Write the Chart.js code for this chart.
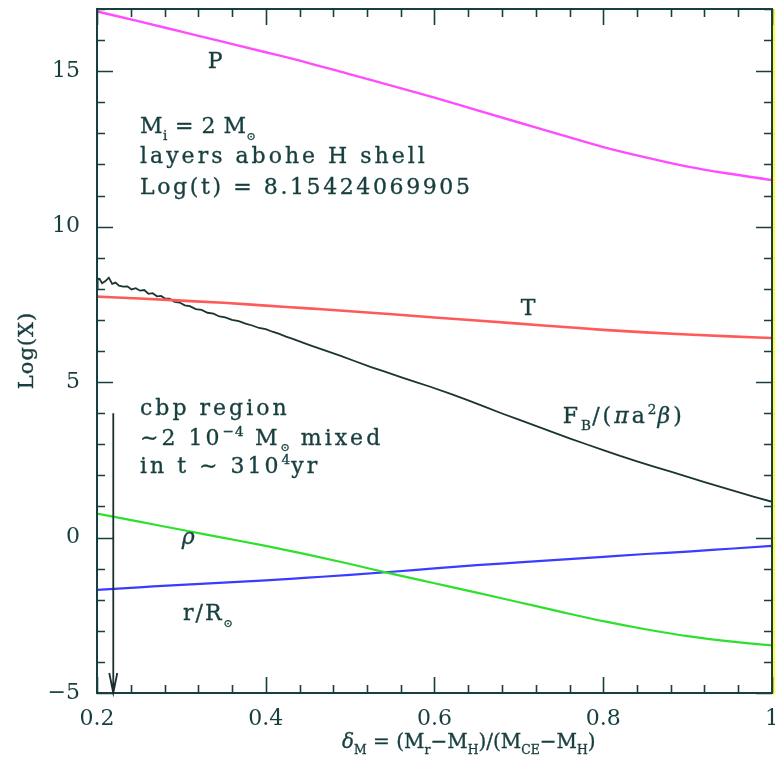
<!DOCTYPE html>
<html>
<head>
<meta charset="utf-8">
<script src="https://cdn.jsdelivr.net/npm/chart.js@4.4.1/dist/chart.umd.min.js"></script>
<style>
  html, body { margin: 0; padding: 0; background: #ffffff; }
  #wrap { width: 775px; height: 775px; }
</style>
</head>
<body>
<div id="wrap"><canvas id="c" width="775" height="775"></canvas></div>
<script>
// ---------------- data ----------------
const deltaGrid = [0.20, 0.25, 0.30, 0.35, 0.40, 0.45, 0.50, 0.55, 0.60, 0.65, 0.70, 0.75, 0.80, 0.85, 0.90, 0.95, 1.00];
const logP   = [16.92, 16.60, 16.27, 15.94, 15.61, 15.27, 14.90, 14.53, 14.15, 13.75, 13.35, 12.95, 12.56, 12.23, 11.93, 11.70, 11.50];
const logT   = [7.75, 7.69, 7.62, 7.55, 7.46, 7.37, 7.28, 7.18, 7.08, 6.98, 6.88, 6.78, 6.68, 6.60, 6.53, 6.47, 6.42];
const logRho = [0.77, 0.51, 0.25, -0.01, -0.27, -0.55, -0.85, -1.17, -1.47, -1.77, -2.08, -2.39, -2.69, -2.95, -3.17, -3.34, -3.47];
const logR   = [-1.68, -1.60, -1.52, -1.45, -1.38, -1.29, -1.20, -1.10, -0.99, -0.89, -0.80, -0.71, -0.62, -0.53, -0.45, -0.36, -0.27];

const deltaFB = [0.200, 0.2005, 0.201, 0.203, 0.206, 0.210, 0.214, 0.218, 0.222, 0.226, 0.231, 0.236, 0.241, 0.246,
                 0.251, 0.256, 0.261, 0.266, 0.271, 0.276, 0.281, 0.286, 0.292, 0.298, 0.304, 0.310, 0.317, 0.324,
                 0.331, 0.338, 0.345, 0.352, 0.360, 0.368, 0.376, 0.384, 0.392, 0.400, 0.408, 0.416, 0.424, 0.432,
                 0.440, 0.452, 0.470, 0.488, 0.506, 0.524, 0.542, 0.560, 0.578, 0.595, 0.62, 0.64, 0.66, 0.68,
                 0.70, 0.72, 0.74, 0.76, 0.78, 0.80, 0.82, 0.84, 0.86, 0.88, 0.90, 0.92, 0.94, 0.96, 0.98, 1.00];
const logFB   = [8.00, 8.36, 8.30, 8.32, 8.18, 8.25, 8.36, 8.16, 8.20, 8.10, 8.07, 8.08, 7.98, 8.02,
                 7.94, 7.96, 7.84, 7.86, 7.76, 7.77, 7.68, 7.68, 7.58, 7.56, 7.47, 7.44, 7.35, 7.32,
                 7.23, 7.20, 7.11, 7.08, 7.00, 6.96, 6.88, 6.82, 6.74, 6.70, 6.62, 6.55, 6.46, 6.39,
                 6.31, 6.19, 6.02, 5.85, 5.67, 5.49, 5.33, 5.16, 5.00, 4.85, 4.61, 4.41, 4.20, 3.99,
                 3.79, 3.59, 3.39, 3.19, 3.00, 2.81, 2.63, 2.45, 2.28, 2.12, 1.95, 1.78, 1.62, 1.46, 1.30, 1.15];

const arrowDelta = [0.2193, 0.2193];
const arrowLogX  = [4.0, -5.0];

const xMajorLabels = ['0.2', '0.4', '0.6', '0.8', '1'];
const yMajorLabels = ['−5', '0', '5', '10', '15'];

const xTitle = 'δ_{M} = (M_{r}−M_{H})/(M_{CE}−M_{H})';
const yTitle = 'Log(X)';

// annotation texts and where they sit (data coordinates)
const notes = [
  { text: 'P', x: 0.340, y: 15.10, align: 'center', ls: 0 },
  { text: 'M_{i} = 2 M_{⊙}', x: 0.251, y: 13.01, align: 'left', ls: 0.5 },
  { text: 'layers abohe H shell', x: 0.251, y: 12.05, align: 'left', ls: 3.0 },
  { text: 'Log(t) = 8.15424069905', x: 0.251, y: 11.05, align: 'left', ls: 2.6 },
  { text: 'T', x: 0.711, y: 7.16, align: 'center', ls: 0 },
  { text: 'cbp region', x: 0.251, y: 3.94, align: 'left', ls: 3.0 },
  { text: '∼2 10^{−4} M_{⊙} mixed', x: 0.251, y: 2.98, align: 'left', ls: 3.0 },
  { text: 'in t ∼ 310^{4}yr', x: 0.251, y: 2.07, align: 'left', ls: 3.0 },
  { text: 'F_{B}/(πa^{2}β)', x: 0.752, y: 3.68, align: 'left', ls: 3.0 },
  { text: 'ρ', x: 0.308, y: -0.21, align: 'center', ls: 0 },
  { text: 'r/R_{⊙}', x: 0.302, y: -2.65, align: 'left', ls: 2.0 }
];

// ---------------- styling ----------------
const INK = '#173f3f';
const FONT = '"DejaVu Serif", "DejaVu Sans", serif';

function pts(xs, ys) { return xs.map((x, i) => ({ x: x, y: ys[i] })); }

function parseRich(s) {
  const segs = []; let cur = ''; let i = 0;
  while (i < s.length) {
    const c = s[i];
    if ((c === '_' || c === '^') && s[i + 1] === '{') {
      if (cur) segs.push({ t: cur, m: 'n' });
      cur = '';
      const j = s.indexOf('}', i);
      segs.push({ t: s.slice(i + 2, j), m: c === '_' ? 'sub' : 'sup' });
      i = j + 1;
    } else { cur += c; i++; }
  }
  if (cur) segs.push({ t: cur, m: 'n' });
  return segs;
}

function drawRich(ctx, s, x, y, size, ls, align, color) {
  const segs = parseRich(s);
  const items = []; let w = 0;
  segs.forEach(seg => {
    for (const ch of seg.t) {
      let fs = seg.m === 'n' ? size : size * 0.62;
      if (ch === '⊙') fs = size * 0.5;
      const dy = seg.m === 'sub' ? size * 0.30 : (seg.m === 'sup' ? -size * 0.42 : 0);
      const it = /[δρπβ]/.test(ch);
      const font = (it ? 'italic ' : '') + fs.toFixed(1) + 'px ' + FONT;
      ctx.font = font;
      const cw = ctx.measureText(ch).width;
      items.push({ ch: ch, x: w, dy: dy, font: font });
      w += cw + (seg.m === 'n' ? ls : ls * 0.4);
    }
  });
  w -= ls;
  let x0 = x;
  if (align === 'center') x0 = x - w / 2;
  else if (align === 'right') x0 = x - w;
  ctx.fillStyle = color;
  ctx.strokeStyle = color;
  ctx.lineWidth = 0.35;
  ctx.textBaseline = 'alphabetic';
  ctx.textAlign = 'left';
  items.forEach(it => {
    ctx.font = it.font;
    ctx.fillText(it.ch, x0 + it.x, y + it.dy);
    ctx.strokeText(it.ch, x0 + it.x, y + it.dy);
  });
}

const framePlugin = {
  id: 'frame',
  afterDatasetsDraw(chart) {
    const ctx = chart.ctx; const a = chart.chartArea;
    const xs = chart.scales.x, ys = chart.scales.y;
    ctx.save();
    // yellow strip at the right edge of the picture
    ctx.fillStyle = '#ffff3c';
    ctx.fillRect(a.right + 1, a.top, 3, a.bottom - a.top + 2);
    ctx.strokeStyle = INK; ctx.lineWidth = 2;
    ctx.strokeRect(a.left, a.top, a.right - a.left, a.bottom - a.top);
    ctx.lineWidth = 1.6;
    ctx.beginPath();
    xs.ticks.forEach(t => {
      const px = Math.round(xs.getPixelForValue(t.value)) + 0.5;
      const len = t.label ? 16 : 8;
      ctx.moveTo(px, a.bottom); ctx.lineTo(px, a.bottom - len);
      ctx.moveTo(px, a.top); ctx.lineTo(px, a.top + len);
    });
    ys.ticks.forEach(t => {
      const py = Math.round(ys.getPixelForValue(t.value)) + 0.5;
      const len = t.label ? 16 : 8;
      ctx.moveTo(a.left, py); ctx.lineTo(a.left + len, py);
      ctx.moveTo(a.right, py); ctx.lineTo(a.right - len, py);
    });
    ctx.stroke();
    // arrow
    const ax = xs.getPixelForValue(arrowDelta[0]);
    const ay0 = ys.getPixelForValue(arrowLogX[0]);
    const ay1 = ys.getPixelForValue(arrowLogX[1]);
    ctx.strokeStyle = '#1a2e2e'; ctx.lineWidth = 1.8;
    ctx.beginPath();
    ctx.moveTo(ax, ay0); ctx.lineTo(ax, ay1);
    ctx.moveTo(ax - 4, ay1 - 20); ctx.lineTo(ax, ay1); ctx.lineTo(ax + 4, ay1 - 20);
    ctx.stroke();
    ctx.restore();
  },
  afterDraw(chart) {
    const ctx = chart.ctx; const a = chart.chartArea;
    const xs = chart.scales.x, ys = chart.scales.y;
    ctx.save();
    notes.forEach(n => {
      drawRich(ctx, n.text, xs.getPixelForValue(n.x), ys.getPixelForValue(n.y), 22, n.ls, n.align, INK);
    });
    // axis titles
    drawRich(ctx, xTitle, a.left + 245, a.bottom + 55, 20, 0, 'left', INK);
    ctx.translate(a.left - 64, (a.top + a.bottom) / 2);
    ctx.rotate(-Math.PI / 2);
    drawRich(ctx, yTitle, 0, 0, 21, 1.0, 'center', INK);
    ctx.restore();
  }
};

function isMultiple(v, step) { const r = v / step; return Math.abs(r - Math.round(r)) < 1e-6; }

new Chart(document.getElementById('c'), {
  type: 'scatter',
  data: {
    datasets: [
      { label: 'P', data: pts(deltaGrid, logP), borderColor: '#ff4cff', borderWidth: 2.4, showLine: true, pointRadius: 0, cubicInterpolationMode: 'monotone' },
      { label: 'T', data: pts(deltaGrid, logT), borderColor: '#ff5a5a', borderWidth: 2.6, showLine: true, pointRadius: 0, cubicInterpolationMode: 'monotone' },
      { label: 'FB', data: pts(deltaFB, logFB), borderColor: '#1b3434', borderWidth: 1.8, showLine: true, pointRadius: 0, tension: 0 },
      { label: 'rho', data: pts(deltaGrid, logRho), borderColor: '#2ee02e', borderWidth: 2.2, showLine: true, pointRadius: 0, cubicInterpolationMode: 'monotone' },
      { label: 'r', data: pts(deltaGrid, logR), borderColor: '#3a3cff', borderWidth: 2.2, showLine: true, pointRadius: 0, cubicInterpolationMode: 'monotone' }
    ]
  },
  options: {
    responsive: false,
    animation: false,
    devicePixelRatio: 1,
    layout: { padding: { top: 9, right: 3, left: 0, bottom: 0 } },
    plugins: { legend: { display: false }, tooltip: { enabled: false } },
    scales: {
      x: {
        type: 'linear', min: 0.2, max: 1.0,
        grid: { display: false, drawTicks: false },
        border: { display: false },
        ticks: {
          stepSize: 0.04, autoSkip: false, maxRotation: 0, padding: 13,
          font: { family: 'DejaVu Serif', size: 22 }, color: INK,
          callback: (v) => {
            if (!isMultiple(v - 0.2, 0.2)) return '';
            return xMajorLabels[Math.round((v - 0.2) / 0.2)];
          }
        },
        afterFit: (s) => { s.height = 82; s.paddingLeft = 0; s.paddingRight = 0; }
      },
      y: {
        type: 'linear', min: -5, max: 17,
        grid: { display: false, drawTicks: false },
        border: { display: false },
        ticks: {
          stepSize: 1, autoSkip: false, padding: 17,
          font: { family: 'DejaVu Serif', size: 22 }, color: INK,
          callback: (v) => {
            if (!isMultiple(v + 5, 5)) return '';
            return yMajorLabels[Math.round((v + 5) / 5)];
          }
        },
        afterFit: (s) => { s.width = 97; s.paddingTop = 0; s.paddingBottom = 0; }
      }
    }
  },
  plugins: [framePlugin]
});
</script>
</body>
</html>
